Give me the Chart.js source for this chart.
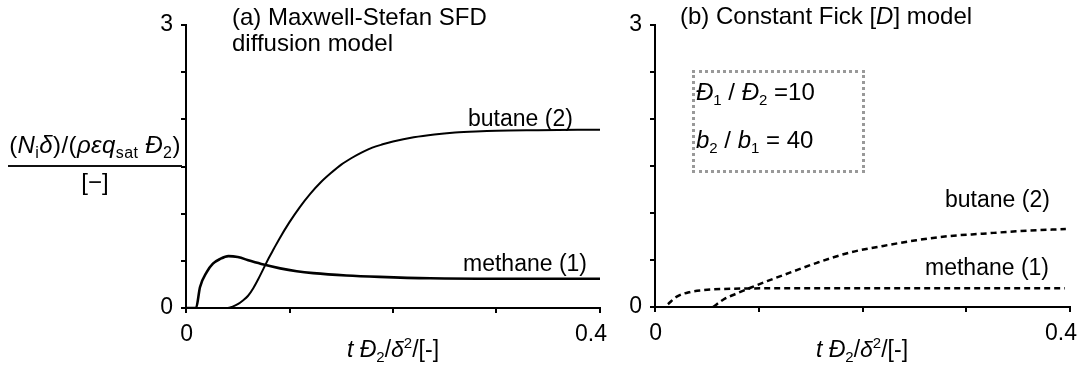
<!DOCTYPE html>
<html><head><meta charset="utf-8">
<script src="https://cdn.jsdelivr.net/npm/chart.js@4.4.0/dist/chart.umd.min.js"></script>
<style>
body{margin:0;background:#fff;width:1081px;height:365px;overflow:hidden;position:relative;font-family:"Liberation Sans",Arial,Helvetica,sans-serif;font-size:23px;color:#000}
canvas{position:absolute;top:0}
.t{position:absolute;line-height:23px;white-space:nowrap}
.big{font-size:24px}
sub{font-size:15px;vertical-align:-5px;line-height:0}
sup{font-size:15px;vertical-align:9px;line-height:0}
.c{text-align:center}
.frac{font-size:24px;letter-spacing:0.4px}
.frac sub{font-size:16px}
</style></head><body>
<canvas id="cA" width="620" height="365" style="left:0;width:620px;height:365px"></canvas>
<canvas id="cB" width="461" height="365" style="left:620px;width:461px;height:365px"></canvas>

<div class="t big" style="left:232px;top:5px">(a) Maxwell-Stefan SFD</div>
<div class="t big" style="left:232px;top:31px">diffusion model</div>
<div class="t big" style="left:680px;top:4px">(b) Constant Fick [<i>D</i>] model</div>

<div class="t c frac" style="left:0px;top:133px;width:190px">(<i>N</i><sub>i</sub><i>δ</i>)/(<i>ρεq</i><sub>sat</sub> <i>Đ</i><sub>2</sub>)</div>
<div style="position:absolute;left:8px;top:165px;width:174px;height:2px;background:#111"></div>
<div class="t c big" style="left:0px;top:170px;width:190px">[−]</div>

<div class="t c" style="left:293px;top:338px;width:200px"><i>t Đ</i><sub>2</sub>/<i>δ</i><sup>2</sup>/[-]</div>
<div class="t c" style="left:762px;top:338px;width:200px"><i>t Đ</i><sub>2</sub>/<i>δ</i><sup>2</sup>/[-]</div>

<div class="t" style="left:468px;top:107px">butane (2)</div>
<div class="t" style="left:463px;top:252px">methane (1)</div>
<div class="t" style="left:945px;top:188px">butane (2)</div>
<div class="t" style="left:925px;top:256px">methane (1)</div>

<div style="position:absolute;left:692px;top:70px;width:173px;height:103px;box-sizing:border-box;border:3px dotted #999"></div>
<div class="t big" style="left:696px;top:80px"><i>Đ</i><sub>1</sub> / <i>Đ</i><sub>2</sub> =10</div>
<div class="t big" style="left:696px;top:128px"><i>b</i><sub>2</sub> / <i>b</i><sub>1</sub> = 40</div>

<script>
// ---- data ----
const tButaneMS   = [0, 0.03, 0.04, 0.045, 0.05, 0.055, 0.06, 0.065, 0.07, 0.075, 0.08, 0.085, 0.09, 0.10, 0.11, 0.12, 0.13, 0.14, 0.15, 0.16, 0.17, 0.18, 0.19, 0.20, 0.22, 0.24, 0.26, 0.28, 0.30, 0.34, 0.40];
const butaneMS    = [0, 0, 0, 0.015, 0.04, 0.08, 0.13, 0.21, 0.31, 0.42, 0.53, 0.63, 0.73, 0.91, 1.07, 1.21, 1.33, 1.43, 1.52, 1.59, 1.65, 1.70, 1.735, 1.765, 1.81, 1.84, 1.86, 1.872, 1.88, 1.885, 1.89];
const tMethaneMS  = [0, 0.0097, 0.0135, 0.02, 0.026, 0.033, 0.041, 0.05, 0.062, 0.075, 0.091, 0.107, 0.123, 0.155, 0.187, 0.236, 0.30, 0.40];
const methaneMS   = [0, 0, 0.22, 0.38, 0.47, 0.52, 0.55, 0.54, 0.50, 0.46, 0.42, 0.39, 0.37, 0.345, 0.33, 0.315, 0.31, 0.31];

const tButaneFick   = [0.056, 0.066, 0.079, 0.092, 0.108, 0.13, 0.156, 0.188, 0.22, 0.252, 0.284, 0.316, 0.348, 0.396];
const butaneFick    = [0, 0.08, 0.145, 0.205, 0.275, 0.365, 0.47, 0.58, 0.65, 0.71, 0.755, 0.78, 0.805, 0.83];
const tMethaneFick  = [0.0125, 0.021, 0.034, 0.047, 0.075, 0.15, 0.25, 0.395];
const methaneFick   = [0.03, 0.11, 0.16, 0.18, 0.195, 0.2, 0.2, 0.2];

const xTickLabelValues = [0, 0.4];
const yTickLabelValues = [0, 3];

// ---- helpers ----
const FONT = {family: '"Liberation Sans", Arial, Helvetica, sans-serif', size: 23};
function pts(xs, ys) { return xs.map((x, i) => ({x: x, y: ys[i]})); }
function hasVal(list, v) { return list.some(a => Math.abs(a - v) < 1e-9); }

function makeChart(id, datasets, yWidth, xHeight, padRight) {
  return new Chart(document.getElementById(id), {
    type: 'line',
    data: {datasets: datasets},
    options: {
      responsive: false, animation: false,
      layout: {padding: {left: 0, right: padRight, top: 25, bottom: 0}},
      plugins: {legend: {display: false}, tooltip: {enabled: false}},
      elements: {point: {radius: 0}},
      scales: {
        x: {
          type: 'linear', min: 0, max: 0.4,
          border: {display: true, color: '#000', width: 2},
          grid: {drawOnChartArea: false, drawTicks: true, tickLength: 5, color: '#000', lineWidth: 2},
          ticks: {stepSize: 0.1, padding: 8, color: '#000', font: FONT, maxRotation: 0, autoSkip: false,
                  align: 'end', labelOffset: 7,
                  callback: v => hasVal(xTickLabelValues, v) ? String(+v.toFixed(2)) : ''},
          afterFit: s => { s.height = xHeight; }
        },
        y: {
          min: 0, max: 3,
          border: {display: true, color: '#000', width: 2},
          grid: {drawOnChartArea: false, drawTicks: true, tickLength: 5, color: '#000', lineWidth: 2},
          ticks: {stepSize: 0.5, padding: 8, color: '#000', font: FONT, autoSkip: false,
                  callback: v => hasVal(yTickLabelValues, v) ? String(v) : ''},
          afterFit: s => { s.width = yWidth; }
        }
      }
    }
  });
}

const solid = {borderColor: '#000', borderWidth: 2, fill: false, cubicInterpolationMode: 'monotone', pointRadius: 0};
const solidThick = Object.assign({}, solid, {borderWidth: 2.6});
const dashed = {borderColor: '#000', borderWidth: 2.5, borderDash: [6, 4], fill: false, cubicInterpolationMode: 'monotone', pointRadius: 0};

makeChart('cA', [
  Object.assign({label: 'butane (2)', data: pts(tButaneMS, butaneMS)}, solid),
  Object.assign({label: 'methane (1)', data: pts(tMethaneMS, methaneMS)}, solidThick)
], 186, 57, 20);

makeChart('cB', [
  Object.assign({label: 'butane (2)', data: pts(tButaneFick, butaneFick)}, dashed),
  Object.assign({label: 'methane (1)', data: pts(tMethaneFick, methaneFick)}, dashed)
], 35, 58, 11);
</script>
</body></html>
